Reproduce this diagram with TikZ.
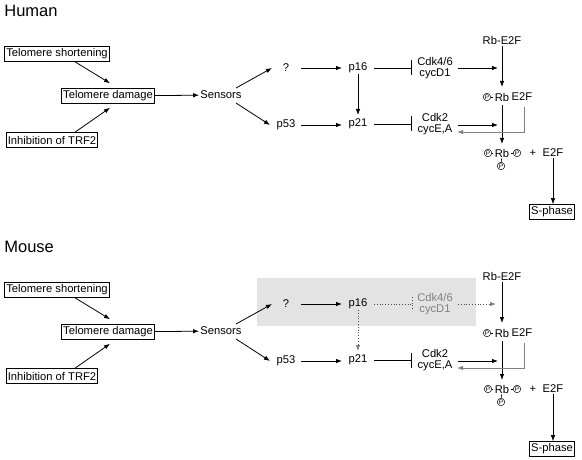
\documentclass[tikz,border=0pt]{standalone}
\usepackage{fontspec}
\setmainfont{Liberation Sans}
\usetikzlibrary{arrows.meta}

\begin{document}
\begin{tikzpicture}[x=1pt, y=-1pt, line width=0.8pt,
    every node/.style={inner sep=1pt, font=\fontsize{11.2}{11}\selectfont},
    box/.style={draw, line width=0.6pt, inner xsep=1.5pt, minimum height=15pt},
    titulo/.style={anchor=west, font=\fontsize{16.5}{18}\selectfont},
    pfos/.style={circle, draw, line width=0.5pt, inner sep=0pt, minimum size=7.5pt,
        font=\fontsize{6.5}{6}\selectfont},
    act/.style={-{Latex[length=6pt,width=4.5pt]}},
    inh/.style={-{Bar[width=15pt]}},
    gristip/.style={-{Latex[length=6pt,width=4.5pt,color=gray]}}]
    \useasboundingbox (0,0) rectangle (582,460);

    % ---------------- Humano ----------------
    \node[titulo] (tith) at (3,11) {Human};
    \node[box] (tsh) at (57,54) {Telomere shortening};
    \node[box] (tdh) at (108,96) {Telomere damage};
    \node[box] (ith) at (52,140) {Inhibition of TRF2};
    \node (senh) at (221,95) {Sensors};
    \node (qh) at (286,68) {?};
    \node (p53h) at (286,125) {p53};
    \node (p16h) at (358,68) {p16};
    \node (p21h) at (358,124) {p21};
    \node[align=center] (c46h) at (435,68) {Cdk4/6\\cycD1};
    \node[align=center] (c2h) at (435,124) {Cdk2\\cycE,A};
    \node (rbeh) at (502,40) {Rb-E2F};
    \node (prbh) at (502,97) {Rb};
    \node[pfos] (pa1h) at (487,97) {P};
    \node (e2fah) at (522,97) {E2F};
    \node (rb2h) at (502,153) {Rb};
    \node[pfos] (pb1h) at (488,153) {P};
    \node[pfos] (pb2h) at (517,153) {P};
    \node[pfos] (pb3h) at (501,166) {P};
    \node (plh) at (533,153) {+};
    \node (e2fh) at (553,153) {E2F};
    \node[box] (sph) at (552,212) {S-phase};
    \coordinate (rb46h) at (498,68);
    \coordinate (rb2ch) at (498,125);

    % Entradas hacia el dano telomerico
    \draw[act] ([xshift=18pt]tsh.south) -- ([xshift=2pt,yshift=5pt]tdh.north);
    \draw[act] ([xshift=23pt]ith.north) -- ([xshift=2pt,yshift=-4pt]tdh.south);
    \draw[act] (tdh) -- (senh);
    \draw[act] ([xshift=15pt,yshift=7pt]senh.center) -- ([xshift=-14pt]qh.center);
    \draw[act] ([xshift=15pt,yshift=-8pt]senh.center) -- ([xshift=-16pt]p53h.center);

    % Inhibidores de las quinasas
    \draw[act] ([xshift=15pt]qh.center) -- ([xshift=-16pt]p16h.center);
    \draw[act] ([xshift=15pt]p53h.center) -- ([xshift=-16pt,yshift=-1pt]p21h.center);
    \draw[act] ([yshift=-6pt]p16h.center) -- ([yshift=9pt]p21h.center);
    \draw[inh] ([xshift=16pt]p16h.center) -- ([xshift=-23pt]c46h.center);
    \draw[inh] ([xshift=16pt]p21h.center) -- ([xshift=-23pt]c2h.center);
    \draw[act] ([xshift=23pt]c46h.center) -- (rb46h);
    \draw[act] ([xshift=23pt,yshift=-1pt]c2h.center) -- (rb2ch);

    % Fosforilacion de Rb
    \draw[line width=0.6pt] (pa1h) -- (prbh);
    \draw[line width=0.6pt] (pb1h) -- (rb2h);
    \draw[line width=0.6pt] (pb2h) -- (rb2h);
    \draw[line width=0.6pt] (pb3h) -- (rb2h);
    \draw[act] (rbeh) -- ([yshift=10pt]prbh.center);
    \draw[act] ([yshift=-8pt]prbh.center) -- ([yshift=9pt]rb2h.center);
    \draw[gray, gristip] ([xshift=2pt,yshift=-10pt]e2fah.center) |- ([xshift=22pt,yshift=-8pt]c2h.center);
    \draw[act] (e2fh) -- (e2fh |- sph.north);

    % ---------------- Raton ----------------
    \fill[black!11] (257,278) rectangle (476,326);
    \node[titulo] (titm) at (3,247) {Mouse};
    \node[box] (tsm) at (57,290) {Telomere shortening};
    \node[box] (tdm) at (108,332) {Telomere damage};
    \node[box] (itm) at (52,376) {Inhibition of TRF2};
    \node (senm) at (221,331) {Sensors};
    \node (qm) at (286,304) {?};
    \node (p53m) at (286,361) {p53};
    \node (p16m) at (358,304) {p16};
    \node (p21m) at (358,360) {p21};
    \node[align=center, text=gray] (c46m) at (435,304) {Cdk4/6\\cycD1};
    \node[align=center] (c2m) at (435,360) {Cdk2\\cycE,A};
    \node (rbem) at (502,276) {Rb-E2F};
    \node (prbm) at (502,333) {Rb};
    \node[pfos] (pa1m) at (487,333) {P};
    \node (e2fam) at (522,333) {E2F};
    \node (rb2m) at (502,389) {Rb};
    \node[pfos] (pb1m) at (488,389) {P};
    \node[pfos] (pb2m) at (517,389) {P};
    \node[pfos] (pb3m) at (501,402) {P};
    \node (plm) at (533,389) {+};
    \node (e2fm) at (553,389) {E2F};
    \node[box] (spm) at (552,449) {S-phase};
    \coordinate (rb46m) at (496,304);
    \coordinate (rb2cm) at (498,361);

    % Entradas hacia el dano telomerico
    \draw[act] ([xshift=18pt]tsm.south) -- ([xshift=2pt,yshift=5pt]tdm.north);
    \draw[act] ([xshift=23pt]itm.north) -- ([xshift=2pt,yshift=-4pt]tdm.south);
    \draw[act] (tdm) -- (senm);
    \draw[act] ([xshift=15pt,yshift=7pt]senm.center) -- ([xshift=-14pt]qm.center);
    \draw[act] ([xshift=15pt,yshift=-8pt]senm.center) -- ([xshift=-16pt]p53m.center);

    % Via de p16 punteada (ausente en raton)
    \draw[act] ([xshift=15pt]qm.center) -- ([xshift=-16pt]p16m.center);
    \draw[act] ([xshift=15pt]p53m.center) -- ([xshift=-16pt,yshift=-1pt]p21m.center);
    \draw[black!70, dotted, gristip] ([yshift=-6pt]p16m.center) -- ([yshift=9pt]p21m.center);
    \draw[black!70, dotted] ([xshift=16pt]p16m.center) -- ([xshift=-23pt]c46m.center);
    \draw[black!70, dotted] ([xshift=-23pt,yshift=7pt]c46m.center) -- ([xshift=-23pt,yshift=-7pt]c46m.center);
    \draw[black!70, dotted, gristip] ([xshift=23pt]c46m.center) -- (rb46m);
    \draw[inh] ([xshift=16pt]p21m.center) -- ([xshift=-23pt]c2m.center);
    \draw[act] ([xshift=23pt,yshift=-1pt]c2m.center) -- (rb2cm);

    % Fosforilacion de Rb
    \draw[line width=0.6pt] (pa1m) -- (prbm);
    \draw[line width=0.6pt] (pb1m) -- (rb2m);
    \draw[line width=0.6pt] (pb2m) -- (rb2m);
    \draw[line width=0.6pt] (pb3m) -- (rb2m);
    \draw[act] (rbem) -- ([yshift=10pt]prbm.center);
    \draw[act] ([yshift=-8pt]prbm.center) -- ([yshift=9pt]rb2m.center);
    \draw[gray, gristip] ([xshift=2pt,yshift=-10pt]e2fam.center) |- ([xshift=22pt,yshift=-8pt]c2m.center);
    \draw[act] (e2fm) -- (e2fm |- spm.north);
\end{tikzpicture}
\end{document}
